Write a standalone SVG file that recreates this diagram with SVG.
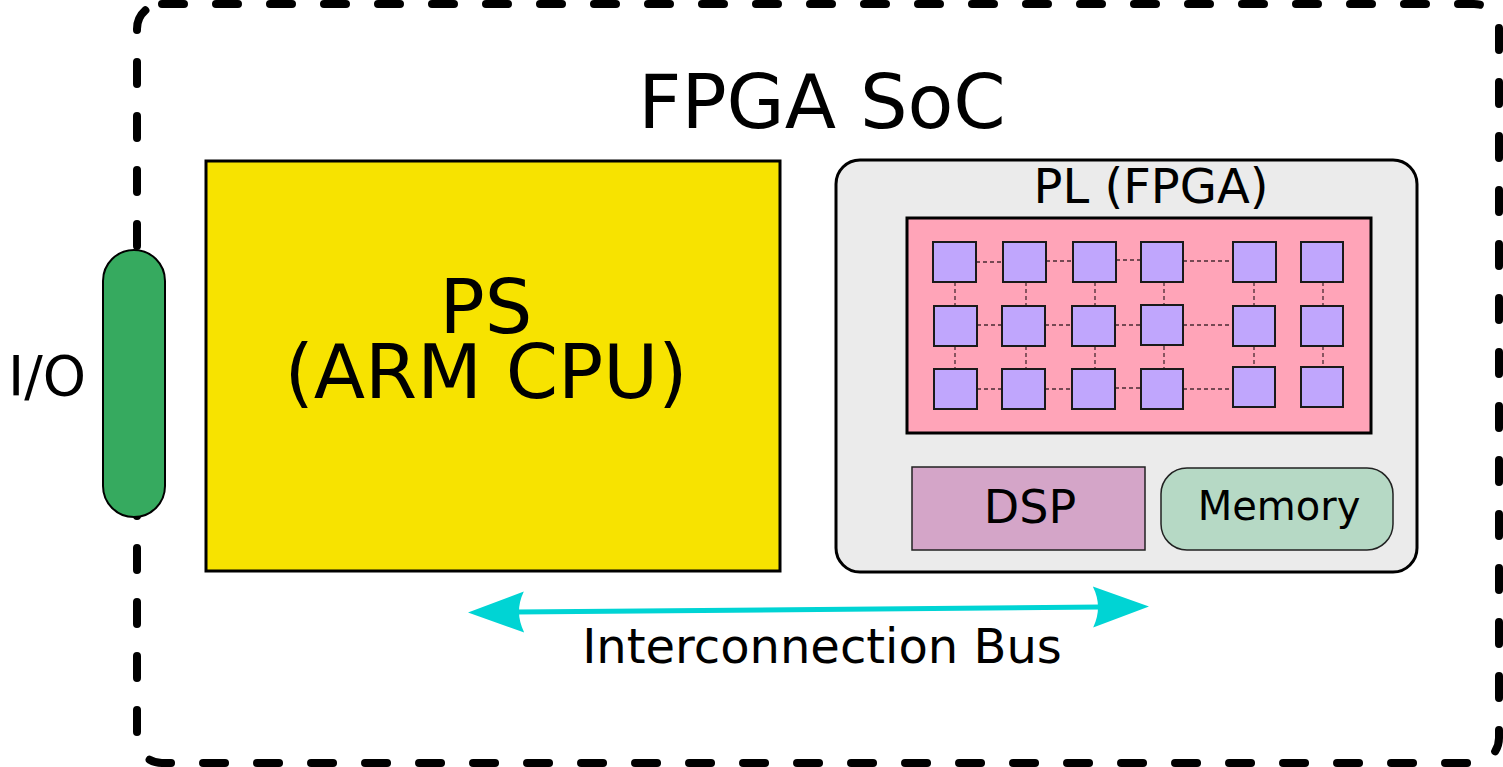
<svg xmlns="http://www.w3.org/2000/svg" width="1503" height="767" viewBox="0 0 1503 767">
<style>
text{font-family:"DejaVu Sans","Verdana",sans-serif;fill:#000}
.cell{fill:#c0a6fd;stroke:#1a1a1a;stroke-width:2}
.wire{stroke:#4a2a32;stroke-width:1.3;stroke-dasharray:4 3;fill:none}
</style>
<defs>
<marker id="ah" markerUnits="userSpaceOnUse" markerWidth="60" markerHeight="46" viewBox="-56 -23 58 46" refX="-48" refY="0" orient="auto-start-reverse">
<path d="M0,0 L-56,-20.5 Q-46,0 -56,20.5 Z" fill="#00d4d4"/>
</marker>
</defs>
<g id="soc">
<rect x="137" y="4" width="1362" height="759" rx="25" fill="none" stroke="#000" stroke-width="8" stroke-dasharray="22 32" stroke-linecap="round"/>
<text x="822" y="128" font-size="75" text-anchor="middle">FPGA SoC</text>
</g>
<g id="io">
<rect x="103" y="250" width="62" height="267" rx="31" fill="#36aa5f" stroke="#000" stroke-width="2"/>
<text x="86" y="395" font-size="55" text-anchor="end">I/O</text>
</g>
<g id="ps">
<rect x="206" y="161" width="574" height="410" fill="#f7e300" stroke="#000" stroke-width="3"/>
<text x="486" y="333" font-size="75" text-anchor="middle">PS</text>
<text x="486" y="398" font-size="75" text-anchor="middle">(ARM CPU)</text>
</g>
<g id="pl">
<rect x="836" y="160" width="581" height="412" rx="24" fill="#ebebeb" stroke="#000" stroke-width="3"/>
<text x="1151" y="203" font-size="48" text-anchor="middle">PL (FPGA)</text>
</g>
<g id="fabric">
<rect x="907" y="218" width="464" height="215" fill="#ffa4b8" stroke="#000" stroke-width="3"/>
<g class="wires">
<path class="wire" d="M976,262H1003M1046,261H1073M1116,260H1141M1183,261H1233"/>
<path class="wire" d="M977,325H1002M1045,325H1072M1115,325H1141M1183,325H1233"/>
<path class="wire" d="M977,389H1002M1045,389H1072M1115,388H1141M1183,389H1233"/>
<path class="wire" d="M955,282V306M955,346V369M1026,282V306M1026,346V369M1095,282V306M1095,346V369M1164,282V306M1164,346V369M1254,282V306M1254,346V367M1323,282V306M1323,346V367"/>
</g>
<rect class="cell" x="933" y="242" width="43" height="40"/>
<rect class="cell" x="1003" y="242" width="43" height="40"/>
<rect class="cell" x="1073" y="242" width="43" height="40"/>
<rect class="cell" x="1141" y="242" width="42" height="40"/>
<rect class="cell" x="1233" y="242" width="43" height="40"/>
<rect class="cell" x="1301" y="242" width="42" height="40"/>
<rect class="cell" x="934" y="306" width="43" height="40"/>
<rect class="cell" x="1002" y="306" width="43" height="40"/>
<rect class="cell" x="1072" y="306" width="43" height="40"/>
<rect class="cell" x="1141" y="305" width="42" height="40"/>
<rect class="cell" x="1233" y="306" width="42" height="40"/>
<rect class="cell" x="1301" y="306" width="42" height="40"/>
<rect class="cell" x="934" y="369" width="43" height="40"/>
<rect class="cell" x="1002" y="369" width="43" height="40"/>
<rect class="cell" x="1072" y="369" width="43" height="40"/>
<rect class="cell" x="1141" y="369" width="42" height="40"/>
<rect class="cell" x="1233" y="367" width="42" height="40"/>
<rect class="cell" x="1301" y="367" width="42" height="40"/>
</g>
<g id="dsp">
<rect x="912" y="467" width="233" height="83" fill="#d4a5c8" stroke="#222" stroke-width="1.5"/>
<text x="1030" y="523" font-size="46" text-anchor="middle">DSP</text>
</g>
<g id="memory">
<rect x="1161" y="468" width="232" height="82" rx="26" fill="#b6d9c5" stroke="#222" stroke-width="1.5"/>
<text x="1279" y="520" font-size="40" text-anchor="middle">Memory</text>
</g>
<g id="connectors">
<path d="M516,612 L1101,607" stroke="#00d4d4" stroke-width="5" fill="none" marker-start="url(#ah)" marker-end="url(#ah)"/>
<text x="822" y="663" font-size="48" text-anchor="middle">Interconnection Bus</text>
</g>
</svg>
